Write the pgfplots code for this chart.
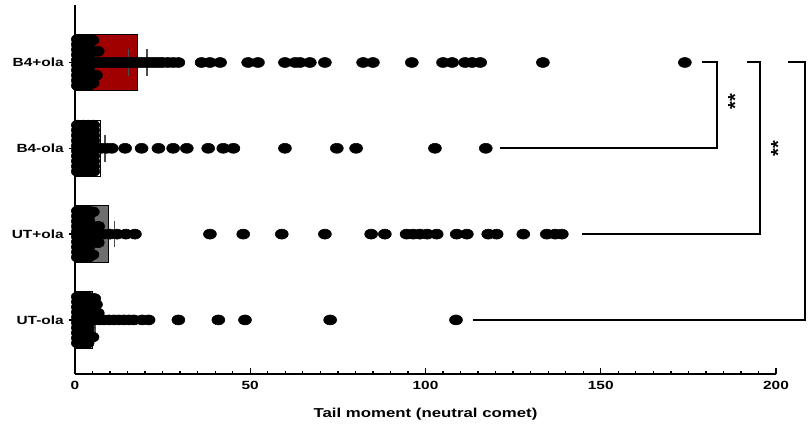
\documentclass[border=0pt]{standalone}
\usepackage{fontspec}
\setmainfont{Liberation Sans}
\usepackage{pgfplots}
\usepackage{pgfplotstable}
\pgfplotsset{compat=1.18}

\definecolor{barred}{HTML}{A00000}
\definecolor{bargray}{HTML}{6E6E6E}

% B4+ola (y = 3)
\pgfplotstableread[row sep=\\]{
x y\\
0.8 2.73\\ 0.8 2.79\\ 0.8 2.85\\ 0.8 2.91\\ 0.8 2.97\\ 0.8 3.03\\ 0.8 3.09\\ 0.8 3.15\\ 0.8 3.21\\ 0.8 3.27\\
2.4 2.73\\ 2.4 2.79\\ 2.4 2.85\\ 2.4 2.91\\ 2.4 2.97\\ 2.4 3.03\\ 2.4 3.09\\ 2.4 3.15\\ 2.4 3.21\\ 2.4 3.27\\
3.8 2.73\\ 3.8 2.79\\ 3.8 2.85\\ 3.8 2.91\\ 3.8 2.97\\ 3.8 3.03\\ 3.8 3.09\\ 3.8 3.15\\ 3.8 3.21\\ 3.8 3.27\\
5 3.26\\ 6.5 3.13\\ 6 2.85\\ 5 2.76\\
5 3\\ 6 3\\ 7 3\\ 8 3\\ 9 3\\ 10 3\\ 11 3\\ 12 3\\ 13 3\\ 14 3\\ 15 3\\ 16 3\\ 17 3\\ 18 3\\ 19 3\\ 20 3\\
21 3\\ 22 3\\ 23 3\\ 24 3\\ 25 3\\ 26.5 3\\ 28 3\\ 29.5 3\\ 36.1 3\\ 38.5 3\\ 41.4 3\\ 49.4 3\\ 52.2 3\\
59.9 3\\ 62.8 3\\ 64.2 3\\ 67 3\\ 71.3 3\\ 82.2 3\\ 85 3\\ 96.1 3\\ 105 3\\ 107.6 3\\ 111.3 3\\ 113.3 3\\
115.6 3\\ 133.5 3\\ 174 3\\
}\BplusPts

% B4-ola (y = 2)
\pgfplotstableread[row sep=\\]{
x y\\
0.8 1.73\\ 0.8 1.79\\ 0.8 1.85\\ 0.8 1.91\\ 0.8 1.97\\ 0.8 2.03\\ 0.8 2.09\\ 0.8 2.15\\ 0.8 2.21\\ 0.8 2.27\\
2.4 1.73\\ 2.4 1.79\\ 2.4 1.85\\ 2.4 1.91\\ 2.4 1.97\\ 2.4 2.03\\ 2.4 2.09\\ 2.4 2.15\\ 2.4 2.21\\ 2.4 2.27\\
3.8 1.73\\ 3.8 1.79\\ 3.8 1.85\\ 3.8 1.91\\ 3.8 1.97\\ 3.8 2.03\\ 3.8 2.09\\ 3.8 2.15\\ 3.8 2.21\\ 3.8 2.27\\
5.2 1.73\\ 5.2 1.79\\ 5.2 1.85\\ 5.2 1.91\\ 5.2 1.97\\ 5.2 2.03\\ 5.2 2.09\\ 5.2 2.15\\ 5.2 2.21\\ 5.2 2.27\\
6 2\\ 7.5 2\\ 9 2\\ 10.5 2\\ 14.3 2\\ 19 2\\ 23.8 2\\ 28 2\\ 31.9 2\\ 38 2\\ 42.3 2\\ 45.2 2\\ 59.9 2\\
74.7 2\\ 80.2 2\\ 102.7 2\\ 117.2 2\\
}\BminusPts

% UT+ola (y = 1)
\pgfplotstableread[row sep=\\]{
x y\\
0.8 0.73\\ 0.8 0.79\\ 0.8 0.85\\ 0.8 0.91\\ 0.8 0.97\\ 0.8 1.03\\ 0.8 1.09\\ 0.8 1.15\\ 0.8 1.21\\ 0.8 1.27\\
2.4 0.73\\ 2.4 0.79\\ 2.4 0.85\\ 2.4 0.91\\ 2.4 0.97\\ 2.4 1.03\\ 2.4 1.09\\ 2.4 1.15\\ 2.4 1.21\\ 2.4 1.27\\
3.8 0.73\\ 3.8 0.79\\ 3.8 0.85\\ 3.8 0.91\\ 3.8 0.97\\ 3.8 1.03\\ 3.8 1.09\\ 3.8 1.15\\ 3.8 1.21\\ 3.8 1.27\\
5.1 1.26\\ 6.6 1.09\\ 6.5 0.9\\ 5 0.76\\
6 1\\ 8 1\\ 10 1\\ 12 1\\ 14.5 1\\ 17.1 1\\ 38.5 1\\ 48 1\\ 59 1\\ 71.3 1\\ 84.5 1\\ 88.4 1\\ 94.6 1\\
96.5 1\\ 98.4 1\\ 100.5 1\\ 103.2 1\\ 108.9 1\\ 111.8 1\\ 117.9 1\\ 120.3 1\\ 127.9 1\\ 134.6 1\\
137 1\\ 138.9 1\\
}\UplusPts

% UT-ola (y = 0)
\pgfplotstableread[row sep=\\]{
x y\\
0.8 -0.27\\ 0.8 -0.21\\ 0.8 -0.15\\ 0.8 -0.09\\ 0.8 -0.03\\ 0.8 0.03\\ 0.8 0.09\\ 0.8 0.15\\ 0.8 0.21\\ 0.8 0.27\\
2.4 -0.27\\ 2.4 -0.21\\ 2.4 -0.15\\ 2.4 -0.09\\ 2.4 -0.03\\ 2.4 0.03\\ 2.4 0.09\\ 2.4 0.15\\ 2.4 0.21\\ 2.4 0.27\\
3.6 -0.27\\ 3.6 -0.21\\ 3.6 -0.15\\ 3.6 -0.09\\ 3.6 -0.03\\ 3.6 0.03\\ 3.6 0.09\\ 3.6 0.15\\ 3.6 0.21\\ 3.6 0.27\\
5.5 0.25\\ 6 0.18\\ 6.5 0.08\\ 5 -0.2\\
5.5 0\\ 7 0\\ 8.3 0\\ 9.7 0\\ 11.1 0\\ 12.5 0\\ 13.9 0\\ 15.4 0\\ 16.8 0\\ 19.2 0\\ 21 0\\ 29.5 0\\
40.9 0\\ 48.5 0\\ 72.8 0\\ 108.7 0\\
}\UminusPts

\begin{document}
\begin{tikzpicture}
\begin{axis}[
  scale only axis, width=525.75pt, height=276.75pt,
  xmin=0, xmax=200, ymin=-0.63, ymax=3.67,
  clip=false,
  axis x line=bottom, axis y line=left,
  axis line style={line width=1.5pt, -},
  xtick={0,50,100,150,200}, minor x tick num=9,
  ytick={0,1,2,3}, yticklabels={UT-ola,UT+ola,B4-ola,B4+ola},
  tick align=inside,
  major tick length=4.5pt, minor tick length=2.25pt,
  tick style={line width=1pt, black},
  every major y tick/.append style={xshift=-4.5pt},
  /pgf/number format/assume math mode=true,
  ticklabel style={font=\fontsize{8.9}{10}\selectfont\bfseries, xscale=1.3},
  xticklabel style={yshift=-2pt},
  yticklabel style={xshift=-3pt},
  xlabel={Tail moment (neutral comet)},
  xlabel style={font=\fontsize{9.7}{11}\selectfont\bfseries, xscale=1.3, yshift=-7pt},
]
% bars
\addplot[xbar, bar width=42.45pt, bar shift=0pt, fill=white, draw=black, line width=0.75pt] coordinates {(4.9,0)};
\addplot[xbar, bar width=42.45pt, bar shift=0pt, fill=bargray, draw=black, line width=0.75pt] coordinates {(9.7,1)};
\addplot[xbar, bar width=42.45pt, bar shift=0pt, fill=white, draw=black, line width=0.75pt] coordinates {(7.3,2)};
\addplot[xbar, bar width=42.45pt, bar shift=0pt, fill=barred, draw=black, line width=0.75pt] coordinates {(17.9,3)};
% points
\addplot[only marks, mark=*, mark size=3.75pt, mark options={xscale=1.3, fill=black, draw=black}] table[x=x, y=y] {\BplusPts};
\addplot[only marks, mark=*, mark size=3.75pt, mark options={xscale=1.3, fill=black, draw=black}] table[x=x, y=y] {\BminusPts};
\addplot[only marks, mark=*, mark size=3.75pt, mark options={xscale=1.3, fill=black, draw=black}] table[x=x, y=y] {\UplusPts};
\addplot[only marks, mark=*, mark size=3.75pt, mark options={xscale=1.3, fill=black, draw=black}] table[x=x, y=y] {\UminusPts};
% error bars
\addplot[draw=none, mark=none,
  error bars/.cd, x dir=both, x explicit,
  error bar style={line width=1pt, black!70},
  error mark options={mark size=10pt, line width=1pt, black!70, rotate=90}]
  coordinates {(4.9,0) +- (0.8,0) (9.7,1) +- (1.5,0) (7.3,2) +- (1.3,0) (17.9,3) +- (2.6,0)};
% significance brackets
\addplot[black, line width=1.5pt, mark=none] coordinates {(178.8,3) (183.1,3) (183.1,2) (121.3,2)};
\addplot[black, line width=1.5pt, mark=none] coordinates {(191.6,3) (195.4,3) (195.4,1) (144.6,1)};
\addplot[black, line width=1.5pt, mark=none] coordinates {(203.4,3) (208.3,3) (208.3,0) (113.6,0)};
\node[rotate=90, font=\fontsize{15}{15}\selectfont\bfseries] at (axis cs:188.3,2.54) {**};
\node[rotate=90, font=\fontsize{15}{15}\selectfont\bfseries] at (axis cs:200.6,2.0) {**};
\coordinate (sw) at (rel axis cs:0,0);
\coordinate (ne) at (rel axis cs:1,1);
\end{axis}
\pgfresetboundingbox
\path ([shift={(-56.25pt,-43.5pt)}]sw) rectangle ([shift={(26.25pt,3.75pt)}]ne);
\end{tikzpicture}
\end{document}
